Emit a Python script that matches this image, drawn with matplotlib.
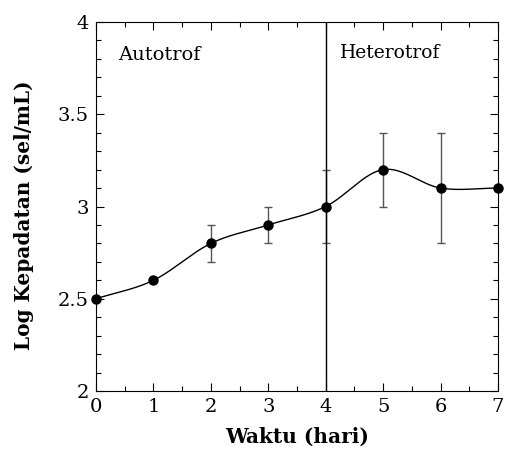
import numpy as np
import matplotlib.pyplot as plt
from matplotlib.ticker import MultipleLocator

days = [0, 1, 2, 3, 4, 5, 6, 7]
log_density = [2.5, 2.6, 2.8, 2.9, 3.0, 3.2, 3.1, 3.1]
err = [0, 0, 0.1, 0.1, 0.2, 0.2, 0.3, 0]


def smooth_curve(x, y, xs):
    # Catmull-Rom style cubic through the points, for the smooth line
    x = np.asarray(x, float)
    y = np.asarray(y, float)
    h = np.diff(x)
    m = np.zeros_like(y)
    m[1:-1] = (y[2:] - y[:-2]) / (x[2:] - x[:-2])
    m[0] = (y[1] - y[0]) / h[0]
    m[-1] = 0.0
    idx = np.clip(np.searchsorted(x, xs) - 1, 0, len(x) - 2)
    t = (xs - x[idx]) / h[idx]
    h00 = 2 * t**3 - 3 * t**2 + 1
    h10 = t**3 - 2 * t**2 + t
    h01 = -2 * t**3 + 3 * t**2
    h11 = t**3 - t**2
    return h00 * y[idx] + h10 * h[idx] * m[idx] + h01 * y[idx + 1] + h11 * h[idx] * m[idx + 1]


plt.rcParams['font.family'] = ['DejaVu Serif']

fig = plt.figure(figsize=(5.05, 4.54), dpi=100)
ax = fig.add_axes([96 / 505, 1 - 391 / 454, 402 / 505, 369 / 454])

xs = np.linspace(0, 7, 400)
ax.plot(xs, smooth_curve(days, log_density, xs), color='black', lw=1)
ax.errorbar(days, log_density, yerr=err, fmt='none', ecolor='#555555', elinewidth=1,
            capsize=3, capthick=1)
ax.plot(days, log_density, 'o', color='black', markersize=6.5, clip_on=False, zorder=5)
ax.axvline(4, color='black', lw=1)

ax.text(0.38, 3.82, 'Autotrof', fontsize=14, ha='left', va='center')
ax.text(4.25, 3.83, 'Heterotrof', fontsize=13.5, ha='left', va='center')

ax.set_xlim(0, 7)
ax.set_ylim(2, 4)
ax.xaxis.set_major_locator(MultipleLocator(1))
ax.xaxis.set_minor_locator(MultipleLocator(0.5))
ax.yaxis.set_major_locator(MultipleLocator(0.5))
ax.yaxis.set_minor_locator(MultipleLocator(0.1))
ax.set_yticks([2, 2.5, 3, 3.5, 4])
ax.set_yticklabels(['2', '2.5', '3', '3.5', '4'])
ax.tick_params(which='both', direction='in', top=True, right=True, labelsize=14, width=0.8)
ax.tick_params(which='major', length=6, pad=5)
ax.tick_params(which='minor', length=3.5)

ax.set_xlabel('Waktu (hari)', fontsize=14.5, fontweight='bold', labelpad=8)
ax.set_ylabel('Log Kepadatan (sel/mL)', fontsize=14.4, fontweight='bold')
ax.yaxis.set_label_coords(-0.155, 0.477)

fig.savefig('out.png', dpi=100)
